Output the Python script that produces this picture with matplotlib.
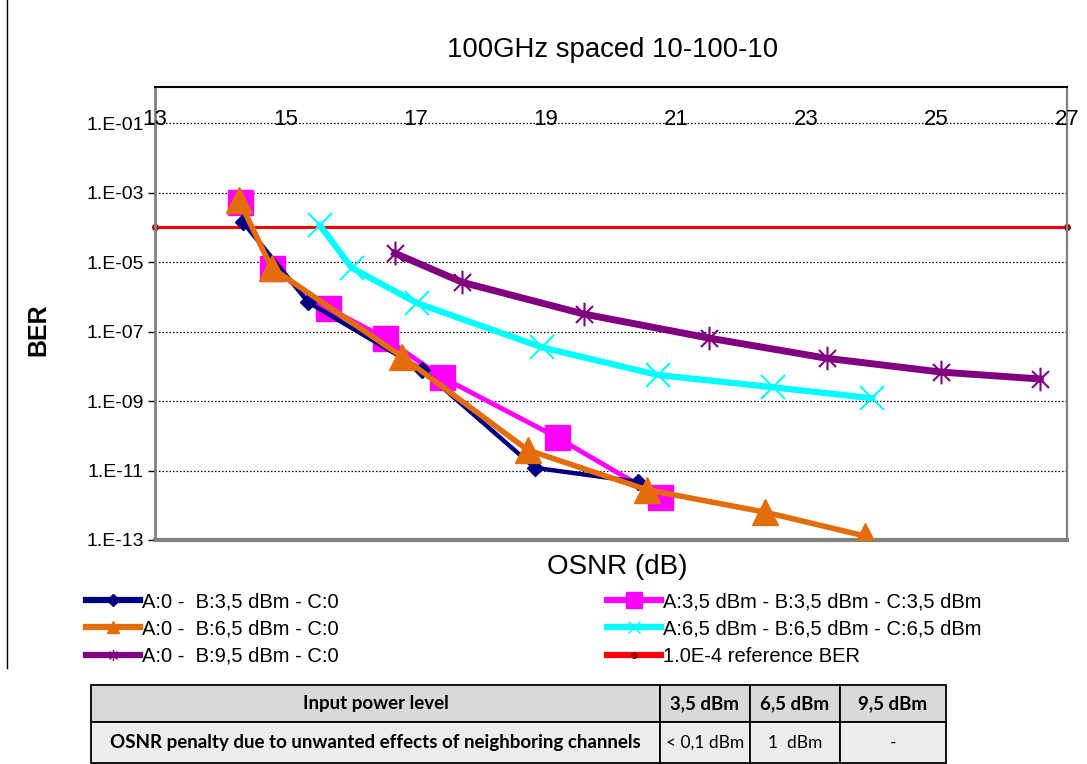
import matplotlib

matplotlib.use("Agg")
import matplotlib.pyplot as plt
from matplotlib.lines import Line2D
from matplotlib.patches import Rectangle
from matplotlib.path import Path

plt.rcParams["font.family"] = ["Liberation Sans", "DejaVu Sans"]

# ---- данные ----
OSNR_A0_B35 = [14.35, 15.35, 17.1, 18.83, 20.42]
BER_A0_B35 = [1.4e-4, 7e-7, 8e-9, 1.2e-11, 4.7e-12]

OSNR_ALL35 = [14.3, 14.79, 15.65, 16.53, 17.4, 19.17, 20.75]
BER_ALL35 = [5.4e-4, 6.8e-6, 4.8e-7, 6.5e-8, 4.9e-9, 9e-11, 1.7e-12]

OSNR_A0_B65 = [14.29, 14.79, 16.79, 18.72, 20.55, 22.37, 23.9]
BER_A0_B65 = [6e-4, 6.8e-6, 1.9e-8, 3.9e-11, 2.8e-12, 6.3e-13, 1.3e-13]

OSNR_ALL65 = [15.53, 16.02, 17.02, 18.94, 20.72, 22.48, 24.01]
BER_ALL65 = [1.15e-4, 6.8e-6, 6.6e-7, 3.5e-8, 5.6e-9, 2.5e-9, 1.2e-9]

OSNR_A0_B95 = [16.68, 17.72, 19.58, 21.5, 23.31, 25.07, 26.59]
BER_A0_B95 = [1.8e-5, 2.6e-6, 3.2e-7, 6.5e-8, 1.7e-8, 6.8e-9, 4.3e-9]

OSNR_REF = [13, 27]
BER_REF = [1e-4, 1e-4]

X_TICKS = [13, 15, 17, 19, 21, 23, 25, 27]
Y_TICKS = [1e-13, 1e-11, 1e-9, 1e-7, 1e-5, 1e-3, 1e-1]
Y_LABELS = ["1.E-13", "1.E-11", "1.E-09", "1.E-07", "1.E-05", "1.E-03", "1.E-01"]

TABLE_HEADER = ["Input power level", "3,5 dBm", "6,5 dBm", "9,5 dBm"]
TABLE_ROW = ["OSNR penalty due to unwanted effects of neighboring channels",
             "< 0,1 dBm", "1  dBm", "-"]

# маркер «звёздочка» как в Excel: крест + вертикаль
ASTER = Path([(0, -1), (0, 1), (-0.72, -0.72), (0.72, 0.72), (-0.72, 0.72), (0.72, -0.72)],
             [Path.MOVETO, Path.LINETO, Path.MOVETO, Path.LINETO, Path.MOVETO, Path.LINETO])

W, H = 1087, 764
fig = plt.figure(figsize=(W / 100, H / 100), dpi=100)
ax = fig.add_axes([155 / W, 1 - 540 / H, 912 / W, 453 / H])

ax.set_yscale("log")
ax.set_xlim(13, 27)
ax.set_ylim(1e-13, 1.09)

for y in Y_TICKS[1:]:
    ax.axhline(y, color="black", lw=0.9, ls=(0, (1.2, 1.6)), zorder=1)

ax.plot(OSNR_REF, BER_REF, color="#ff0000", lw=2.2, marker="o", ms=4,
        mfc="#a00000", mec="#a00000", zorder=2, clip_on=False,
        label="1.0E-4 reference BER")
ax.plot(OSNR_ALL35, BER_ALL35, color="#ff00ff", lw=3.5, marker="s", ms=18,
        zorder=3, label="A:3,5 dBm - B:3,5 dBm - C:3,5 dBm")
ax.plot(OSNR_A0_B35, BER_A0_B35, color="#000080", lw=3.2, marker="D", ms=8,
        zorder=4, label="A:0 -  B:3,5 dBm - C:0")
ax.plot(OSNR_A0_B65, BER_A0_B65, color="#e46c0a", lw=4, marker="^", ms=19,
        zorder=5, label="A:0 -  B:6,5 dBm - C:0")
ax.plot(OSNR_ALL65, BER_ALL65, color="#00ffff", lw=4.5, marker="x", ms=17, mew=1.5,
        zorder=3, label="A:6,5 dBm - B:6,5 dBm - C:6,5 dBm")
ax.plot(OSNR_A0_B95, BER_A0_B95, color="#800080", lw=5, marker=ASTER, ms=17, mew=1.5,
        zorder=3, label="A:0 -  B:9,5 dBm - C:0")

# оси в стиле Excel
ax.spines["top"].set_color("black")
ax.spines["top"].set_linewidth(1.5)
for side, lw in (("left", 2), ("right", 1.6), ("bottom", 3)):
    ax.spines[side].set_color("#808080")
    ax.spines[side].set_linewidth(lw)

ax.set_yticks(Y_TICKS)
ax.set_yticklabels(Y_LABELS)
ax.minorticks_off()
ax.tick_params(axis="y", direction="out", length=5, width=1, color="black",
               labelsize=14, pad=3)
ax.tick_params(axis="x", bottom=False, labelbottom=False)
for x in X_TICKS:
    ax.annotate(str(x), (x, 1e-1), xytext=(0, -1.5), textcoords="offset points",
                ha="center", va="baseline", fontsize=16, zorder=6)

fig.text(613 / W, 1 - 50 / H, "100GHz spaced 10-100-10", ha="center", va="center",
         fontsize=19.8)
fig.text(617 / W, 1 - 567 / H, "OSNR (dB)", ha="center", va="center", fontsize=20)
fig.text(38 / W, 1 - 330 / H, "BER", ha="center", va="center", rotation=90,
         fontsize=18, fontweight="bold")

# легенда
handles, labels = ax.get_legend_handles_labels()
order = [2, 3, 5, 1, 4, 0]
small = {"s": 11, "D": 6, "^": 9, "x": 8, "o": 4}
leg_h = []
for i in order:
    h = handles[i]
    mk = h.get_marker()
    ms = small.get(mk, 8) if isinstance(mk, str) else 8
    leg_h.append(Line2D([], [], color=h.get_color(), lw=4.5, marker=mk, ms=ms,
                        mew=1, mfc=h.get_markerfacecolor(), mec=h.get_markeredgecolor()))
fig.legend(leg_h, [labels[i] for i in order], ncol=2, loc="upper left",
           bbox_to_anchor=(86 / W, 1 - 592 / H), frameon=False, fontsize=14.5,
           handlelength=2.7, handletextpad=0.1, columnspacing=13.3,
           labelspacing=0.42, borderpad=0, borderaxespad=0)

fig.add_artist(Line2D([7 / W, 7 / W], [1, 1 - 668 / H], color="black", lw=1))

# таблица
tab = fig.add_axes([0, 0, 1, 1], zorder=-1)
tab.set_xlim(0, W)
tab.set_ylim(H, 0)
tab.axis("off")
col_edges = [91, 660, 750, 840, 946]
row_edges = [685, 722, 763]
fills = ["#d9d9d9", "#ededed"]
for r, row in enumerate([TABLE_HEADER, TABLE_ROW]):
    y0, y1 = row_edges[r], row_edges[r + 1]
    for c, txt in enumerate(row):
        x0, x1 = col_edges[c], col_edges[c + 1]
        tab.add_patch(Rectangle((x0, y0), x1 - x0, y1 - y0, facecolor=fills[r],
                                edgecolor="black", lw=1.3))
        bold = r == 0 or c == 0
        tab.text((x0 + x1) / 2, (y0 + y1) / 2, txt, ha="center", va="center",
                 fontsize=13.5 if bold else 12.5, family=["Lato", "DejaVu Sans"],
                 fontweight="bold" if bold else "normal")

fig.savefig("out.png", dpi=100)
